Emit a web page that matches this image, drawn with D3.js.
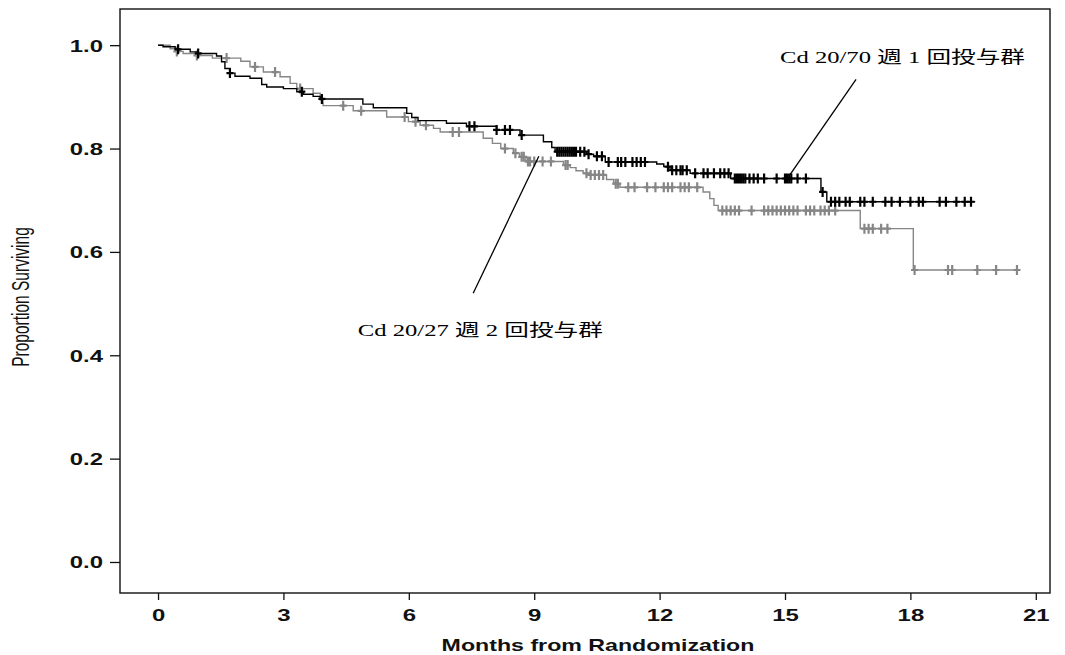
<!DOCTYPE html>
<html>
<head>
<meta charset="utf-8">
<script src="https://cdn.jsdelivr.net/npm/d3@7"></script>
<style>
  body { margin: 0; background: #fff; }
  svg { display: block; }
</style>
</head>
<body>
<svg width="1065" height="655"></svg>
<script>
// Kaplan-Meier steps: [month, proportion after the step]
const weeklyOnceSteps = [
  [0, 1.0], [0.12, 0.997], [0.41, 0.992], [0.77, 0.987], [0.96, 0.984], [1.4, 0.979],
  [1.52, 0.968], [1.6, 0.955], [1.72, 0.946], [1.84, 0.94], [2.2, 0.936], [2.48, 0.924],
  [2.6, 0.919], [3.0, 0.916], [3.32, 0.91], [3.48, 0.905], [3.71, 0.901], [3.88, 0.896],
  [4.9, 0.886], [5.15, 0.879], [5.95, 0.868], [6.07, 0.86], [6.22, 0.854], [6.9, 0.849],
  [7.38, 0.843], [8.1, 0.836], [8.66, 0.826], [9.22, 0.813], [9.42, 0.802], [9.5, 0.794],
  [10.26, 0.789], [10.42, 0.785], [10.7, 0.774], [11.93, 0.77], [12.1, 0.765], [12.25, 0.758],
  [12.73, 0.752], [13.7, 0.742], [15.86, 0.716], [16.0, 0.697], [19.55, 0.697]
];
const weeklyOnceCensored = [
  0.48, 0.96, 1.72, 3.44, 3.92, 7.45, 7.57, 8.1, 8.3, 8.42, 8.7, 9.55, 9.6, 9.65, 9.7, 9.75,
  9.8, 9.85, 9.9, 9.95, 10.0, 10.1, 10.2, 10.3, 10.5, 10.62, 10.78, 11.0, 11.08, 11.18, 11.35,
  11.45, 11.55, 11.65, 12.2, 12.3, 12.4, 12.5, 12.55, 12.65, 12.85, 13.05, 13.15, 13.3, 13.45,
  13.55, 13.65, 13.8, 13.85, 13.9, 13.95, 14.0, 14.05, 14.15, 14.25, 14.35, 14.5, 14.8, 15.0,
  15.05, 15.1, 15.15, 15.3, 15.5, 15.9, 16.1, 16.2, 16.3, 16.45, 16.55, 16.8, 16.9, 17.1, 17.4,
  17.55, 17.75, 18.0, 18.2, 18.3, 18.7, 18.85, 19.1, 19.3, 19.45
];

const twiceWeeklySteps = [
  [0, 1.0], [0.29, 0.993], [0.45, 0.988], [0.6, 0.984], [0.9, 0.98], [1.3, 0.975],
  [1.98, 0.969], [2.2, 0.958], [2.52, 0.948], [2.92, 0.939], [3.16, 0.926], [3.32, 0.916],
  [3.71, 0.907], [3.88, 0.894], [3.95, 0.883], [4.67, 0.873], [5.47, 0.861], [5.99, 0.852],
  [6.27, 0.845], [6.59, 0.839], [6.75, 0.832], [7.78, 0.82], [8.0, 0.81], [8.2, 0.8],
  [8.5, 0.791], [8.65, 0.784], [8.8, 0.775], [9.7, 0.768], [9.86, 0.763], [10.0, 0.757],
  [10.17, 0.752], [10.33, 0.749], [10.73, 0.74], [10.9, 0.732], [11.05, 0.725], [13.04, 0.716],
  [13.2, 0.703], [13.3, 0.69], [13.4, 0.68], [16.8, 0.645], [18.07, 0.565], [20.6, 0.565]
];
const twiceWeeklyCensored = [
  0.45, 0.93, 1.64, 2.32, 2.8, 3.4, 4.43, 4.86, 5.9, 6.16, 6.41, 7.05, 7.2, 8.3, 8.55, 8.7,
  8.75, 8.85, 8.9, 9.0, 9.2, 9.4, 9.75, 9.8, 10.25, 10.35, 10.45, 10.55, 10.65, 10.95, 11.0,
  11.25, 11.4, 11.7, 11.9, 12.1, 12.2, 12.3, 12.5, 12.6, 12.7, 12.9, 13.5, 13.6, 13.7, 13.8,
  13.9, 14.2, 14.5, 14.6, 14.7, 14.8, 14.9, 15.0, 15.1, 15.2, 15.3, 15.5, 15.6, 15.7, 15.85,
  15.95, 16.05, 16.2, 16.9, 17.0, 17.1, 17.3, 17.45, 18.1, 18.9, 19.0, 19.6, 20.05, 20.55
];

const xTicks = [0, 3, 6, 9, 12, 15, 18, 21];
const yTicks = [0.0, 0.2, 0.4, 0.6, 0.8, 1.0];

// annotation labels and their leader lines, in data units
const labels = [
  { text: 'Cd 20/70 週 1 回投与群', x: 14.88, y: 0.965, from: [16.7, 0.934], to: [15.1, 0.747] },
  { text: 'Cd 20/27 週 2 回投与群', x: 4.78, y: 0.437, from: [7.54, 0.52], to: [9.11, 0.785] }
];

const svg = d3.select('svg');
const stretch = 1.45; // the picture is widened horizontally

const x = d3.scaleLinear().domain([-0.91, 21.34]).range([120, 1050]);
const y = d3.scaleLinear().domain([-0.06, 1.07]).range([593, 9]);

// frame
svg.append('rect')
  .attr('x', x.range()[0]).attr('y', y.range()[1])
  .attr('width', x.range()[1] - x.range()[0])
  .attr('height', y.range()[0] - y.range()[1])
  .attr('fill', 'none').attr('stroke', '#111').attr('stroke-width', 1.4);

// axes
const yAxis = svg.append('g')
  .attr('transform', `translate(${x.range()[0]},0)`)
  .call(d3.axisLeft(y).tickValues(yTicks).tickFormat(d3.format('.1f')).tickSize(10));
const xAxis = svg.append('g')
  .attr('transform', `translate(0,${y.range()[0]})`)
  .call(d3.axisBottom(x).tickValues(xTicks).tickFormat(d3.format('d')).tickSize(7));

[yAxis, xAxis].forEach(ax => {
  ax.select('.domain').remove();
  ax.selectAll('.tick line').attr('stroke', '#111').attr('stroke-width', 1.3);
  ax.selectAll('.tick text')
    .attr('fill', '#111')
    .style('font-family', '"Liberation Sans", Arial, sans-serif')
    .style('font-size', '16.5px')
    .style('font-weight', 'bold');
});
yAxis.selectAll('.tick text')
  .attr('x', null).attr('dy', '0.36em')
  .attr('transform', `translate(-17,0) scale(${stretch},1)`);
xAxis.selectAll('.tick text')
  .attr('y', null).attr('dy', 0)
  .attr('transform', `translate(0,28) scale(${stretch},1)`);

// axis titles
svg.append('text')
  .attr('transform', `translate(${(x.range()[0] + x.range()[1]) / 2 + 13},651) scale(${stretch},1)`)
  .attr('text-anchor', 'middle')
  .style('font-family', '"Liberation Sans", Arial, sans-serif')
  .style('font-size', '16px')
  .style('font-weight', 'bold')
  .attr('fill', '#111')
  .text('Months from Randomization');

svg.append('text')
  .attr('transform', 'translate(29,297) rotate(-90) scale(1,1.5)')
  .attr('text-anchor', 'middle')
  .style('font-family', '"Liberation Sans", Arial, sans-serif')
  .style('font-size', '15.5px')
  .attr('fill', '#111')
  .text('Proportion Surviving');

// curves
const stepLine = d3.line()
  .x(d => x(d[0]))
  .y(d => y(d[1]))
  .curve(d3.curveStepAfter);

function survivalAt(steps, t) {
  let s = steps[0][1];
  for (const d of steps) { if (d[0] <= t) s = d[1]; }
  return s;
}

const groups = [
  { steps: twiceWeeklySteps, censored: twiceWeeklyCensored, color: '#868686' },
  { steps: weeklyOnceSteps, censored: weeklyOnceCensored, color: '#000' }
];

groups.forEach(g => {
  svg.append('path')
    .datum(g.steps)
    .attr('d', stepLine)
    .attr('fill', 'none')
    .attr('stroke', g.color)
    .attr('stroke-width', 1.4);

  svg.append('g').selectAll('path')
    .data(g.censored)
    .join('path')
      .attr('d', t => {
        const cx = x(t), cy = y(survivalAt(g.steps, t));
        return `M${cx - 3.5},${cy}H${cx + 3.5}M${cx},${cy - 5}V${cy + 5}`;
      })
      .attr('stroke', g.color)
      .attr('stroke-width', 2.2)
      .attr('fill', 'none');
});

// annotations
labels.forEach(l => {
  svg.append('line')
    .attr('x1', x(l.from[0])).attr('y1', y(l.from[1]))
    .attr('x2', x(l.to[0])).attr('y2', y(l.to[1]))
    .attr('stroke', '#000').attr('stroke-width', 1.3);
  svg.append('text')
    .attr('transform', `translate(${x(l.x)},${y(l.y)}) scale(${stretch},1)`)
    .style('font-family', '"Liberation Serif", "Times New Roman", "Noto Sans CJK JP", serif')
    .style('font-size', '17px')
    .attr('fill', '#000')
    .text(l.text);
});
</script>
</body>
</html>
